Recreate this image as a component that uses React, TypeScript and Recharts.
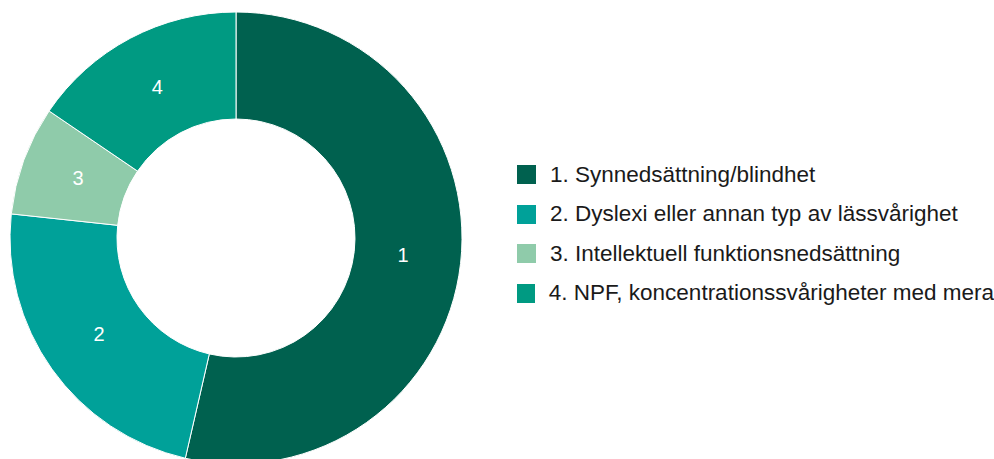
import React from 'react';
import { PieChart, Pie, Cell, Legend } from 'recharts';

const categories = [
  '1. Synnedsättning/blindhet',
  '2. Dyslexi eller annan typ av lässvårighet',
  '3. Intellektuell funktionsnedsättning',
  '4. NPF, koncentrationssvårigheter med mera',
];
const shortLabels = ['1', '2', '3', '4'];
const values = [53.6, 23.1, 7.8, 15.5];
const colors = ['#00614f', '#00a199', '#8fcbaa', '#009a82'];

const data = categories.map((name, i) => ({ name, label: shortLabels[i], value: values[i] }));

const RADIAN = Math.PI / 180;

function renderLabel(props: any) {
  const { cx, cy, midAngle, innerRadius, outerRadius, index } = props;
  const r = innerRadius + (outerRadius - innerRadius) * 0.46;
  const x = cx + r * Math.cos(-midAngle * RADIAN);
  const y = cy + r * Math.sin(-midAngle * RADIAN);
  return (
    <text
      x={x}
      y={y - 2}
      fill="#ffffff"
      textAnchor="middle"
      dominantBaseline="central"
      fontSize={20}
      fontFamily="'Liberation Sans', Arial, sans-serif"
    >
      {shortLabels[index]}
    </text>
  );
}

function LegendContent() {
  return (
    <div style={{ fontFamily: "'Liberation Sans', Arial, sans-serif" }}>
      {data.map((d, i) => (
        <div key={d.name} style={{ display: 'flex', alignItems: 'center', height: 39.5 }}>
          <div style={{ width: 19, height: 19, background: colors[i], marginRight: 14 }} />
          <span style={{ fontSize: 22.5, color: '#1a1a1a', whiteSpace: 'nowrap' }}>{d.name}</span>
        </div>
      ))}
    </div>
  );
}

export default function App() {
  return (
    <div style={{ position: 'absolute', left: 0, top: 0, width: 994, height: 459, background: '#fff' }}>
      <PieChart width={994} height={459} margin={{ top: 0, right: 0, bottom: 0, left: 0 }}>
        <Pie
          data={data}
          dataKey="value"
          nameKey="name"
          cx={236}
          cy={238}
          innerRadius={119}
          outerRadius={226}
          startAngle={90}
          endAngle={-270}
          stroke="#ffffff"
          strokeWidth={1}
          label={renderLabel}
          labelLine={false}
          isAnimationActive={false}
        >
          {data.map((d, i) => (
            <Cell key={d.name} fill={colors[i]} />
          ))}
        </Pie>
        <Legend
          content={<LegendContent />}
          wrapperStyle={{ position: 'absolute', left: 517, top: 155, width: 477 }}
        />
      </PieChart>
    </div>
  );
}
